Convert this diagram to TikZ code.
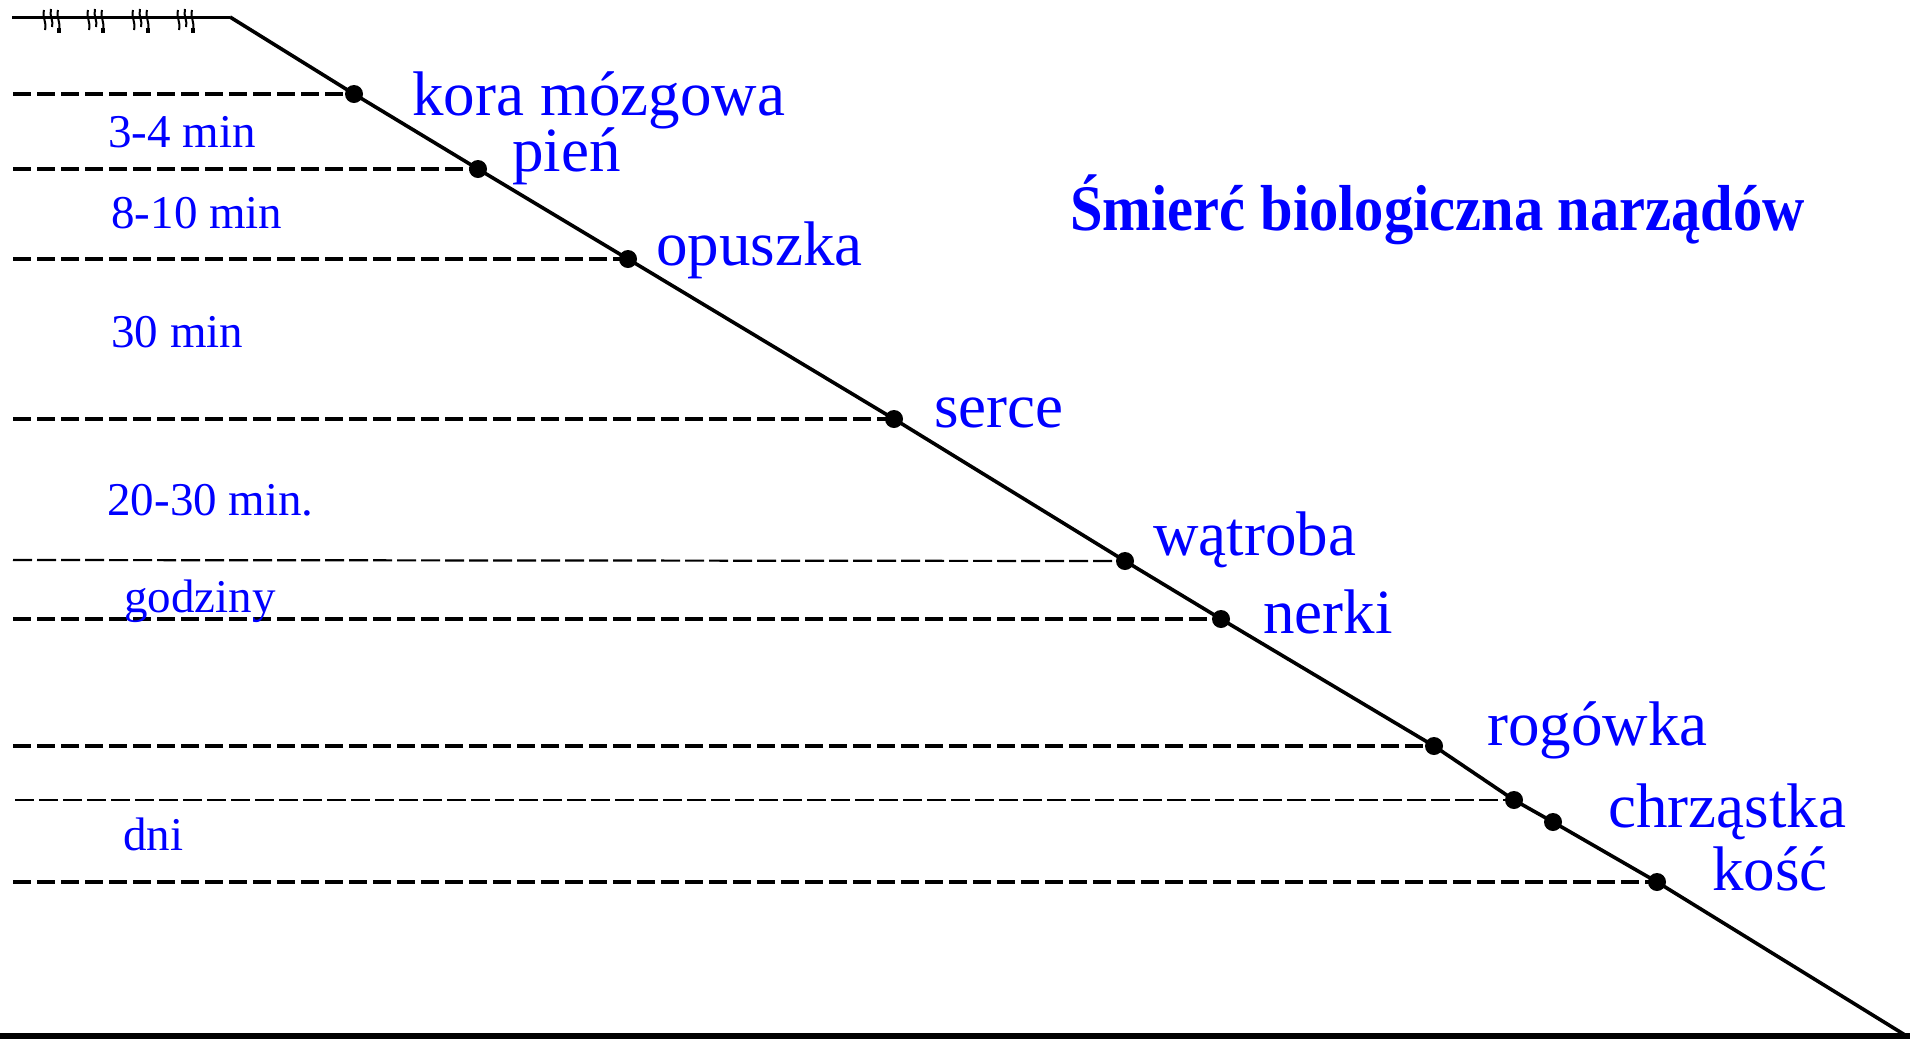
\documentclass[tikz,border=0pt]{standalone}
\usepackage{fontspec}
\setmainfont{Liberation Serif}
\begin{document}
\begin{tikzpicture}[x=0.5pt,y=-0.5pt,
  dot/.style={circle,fill=black,inner sep=0pt,minimum size=9pt},
  big/.style={text=blue,font=\fontsize{31.5}{36}\selectfont,anchor=base west,inner sep=0pt},
  small/.style={text=blue,font=\fontsize{23.5}{28}\selectfont,anchor=base west,inner sep=0pt},
  thickdash/.style={line width=2.4pt,dash pattern=on 9pt off 3pt},
  thindash/.style={line width=1.1pt,dash pattern=on 9.5pt off 2.5pt},
  slope/.style={line width=1.8pt,line join=round},
  grass/.style={line width=1pt}]
\path[use as bounding box,fill=white] (0,0) rectangle (1910,1040);
% top ground line with grass marks
\coordinate (topL) at (12,17);
\coordinate (top) at (230,17);
\coordinate (bot) at (1905,1035);
\coordinate (baseL) at (0,1036);
\coordinate (baseR) at (1910,1036);
\draw[line width=1.5pt] (topL) -- (top);
\foreach \cx in {52,96,141,186}{
  \draw[grass] (\cx-8,10) .. controls (\cx-10,18) and (\cx-5,22) .. (\cx-7,30);
  \draw[grass] (\cx-1,9) .. controls (\cx-3,16) and (\cx+2,21) .. (\cx,27);
  \draw[grass] (\cx+6,10) .. controls (\cx+4,18) and (\cx+9,22) .. (\cx+7,30);
  \fill (\cx+5,28) rectangle (\cx+9,33);
}
% dots on the slope
\node[dot] (d1) at (354,94) {};
\node[dot] (d2) at (478,169) {};
\node[dot] (d3) at (628,259) {};
\node[dot] (d4) at (894,419) {};
\node[dot] (d5) at (1125,561) {};
\node[dot] (d6) at (1221,619) {};
\node[dot] (d7) at (1434,746) {};
\node[dot] (d8) at (1514,800) {};
\node[dot] (d9) at (1553,822) {};
\node[dot] (d10) at (1657,882) {};
% slope
\draw[slope] (top) -- (d1.center) -- (d2.center) -- (d3.center) -- (d4.center)
  -- (d5.center) -- (d6.center) -- (d7.center) -- (d8.center) -- (d9.center)
  -- (d10.center) -- (bot);
% base line
\draw[line width=2.6pt] (baseL) -- (baseR);
% left ends of level lines
\coordinate (l1) at (13,94);
\coordinate (l2) at (13,169);
\coordinate (l3) at (13,259);
\coordinate (l4) at (13,419);
\coordinate (l5) at (13,560);
\coordinate (l6) at (13,619);
\coordinate (l7) at (13,746);
\coordinate (l8) at (15,800);
\coordinate (l10) at (13,882);
\draw[thickdash] (l1) -- (d1.center);
\draw[thickdash] (l2) -- (d2.center);
\draw[thickdash] (l3) -- (d3.center);
\draw[thickdash] (l4) -- (d4.center);
\draw[thindash] (l5) -- (d5.center);
\draw[thickdash] (l6) -- (d6.center);
\draw[thickdash] (l7) -- (d7.center);
\draw[thindash] (l8) -- (d8.center);
\draw[thickdash] (l10) -- (d10.center);
% organ labels
\node[big] (t1) at (412,115) {kora mózgowa};
\node[big] (t2) at (512,171) {pień};
\node[big] (t3) at (656,265) {opuszka};
\node[big] (t4) at (934,427) {serce};
\node[big] (t5) at (1153,555) {wątroba};
\node[big] (t6) at (1263,633) {nerki};
\node[big] (t7) at (1487,745) {rogówka};
\node[big] (t9) at (1608,827) {chrząstka};
\node[big] (t10) at (1712,890) {kość};
% time labels
\node[small] (m1) at (108,147) {3-4 min};
\node[small] (m2) at (111,228) {8-10 min};
\node[small] (m3) at (111,347) {30 min};
\node[small] (m4) at (107,515) {20-30 min.};
\node[small] (m5) at (124,612) {godziny};
\node[small] (m6) at (123,850) {dni};
% title
\node[anchor=base west,text=blue,inner sep=0pt,font=\bfseries\fontsize{32.5}{38}\selectfont] (title) at (1070,230) {\scalebox{0.9}[1]{Śmierć biologiczna narządów}};
\end{tikzpicture}
\end{document}
